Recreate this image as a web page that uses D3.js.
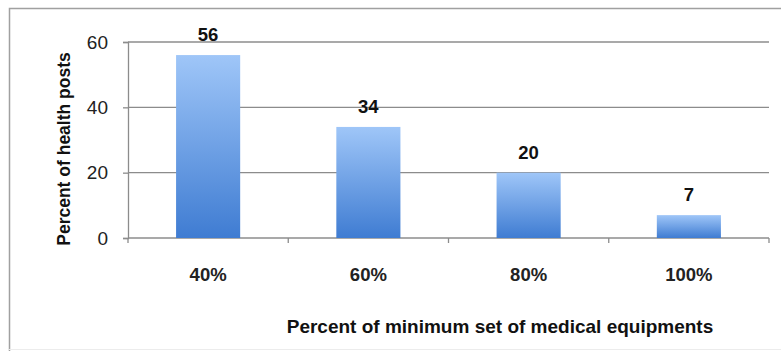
<!DOCTYPE html>
<html>
<head>
<meta charset="utf-8">
<script src="https://cdn.jsdelivr.net/npm/d3@7"></script>
<style>
  html, body { margin: 0; padding: 0; background: #fff; }
  svg { display: block; font-family: "Liberation Sans", Arial, sans-serif; }
</style>
</head>
<body>
<svg id="chart"></svg>
<script>
// chart values
const categories = ["40%", "60%", "80%", "100%"];
const percentPosts = [56, 34, 20, 7];
const yTicks = [0, 20, 40, 60];
const xTitle = "Percent of minimum set of medical equipments";
const yTitle = "Percent of health posts";

const W = 781, H = 351;
const margin = {left: 128, right: 12, top: 42, bottom: 113};
const width = W - margin.left - margin.right;
const height = H - margin.top - margin.bottom;

const svg = d3.select("#chart").attr("width", W).attr("height", H);

// outer frame (only top and left edges show in the picture)
svg.append("path")
    .attr("d", "M9.5," + H + "V8.5H" + W)
    .attr("fill", "none")
    .attr("stroke", "#a0a0a0")
    .attr("stroke-width", 1.5);
svg.append("line")
    .attr("x1", 9).attr("x2", W).attr("y1", 349.5).attr("y2", 349.5)
    .attr("stroke", "#ececec");

// bar gradient, light on top, darker at the base
const grad = svg.append("defs").append("linearGradient")
    .attr("id", "barGrad").attr("x1", 0).attr("x2", 0).attr("y1", 0).attr("y2", 1);
grad.append("stop").attr("offset", "0%").attr("stop-color", "#9fc6f8");
grad.append("stop").attr("offset", "100%").attr("stop-color", "#3f7cd2");

const g = svg.append("g")
    .attr("transform", "translate(" + margin.left + "," + margin.top + ")");

const xScale = d3.scaleBand().domain(categories).range([0, width]).paddingInner(0).paddingOuter(0);
const yScale = d3.scaleLinear().domain([0, 60]).range([height, 0]);

// gridlines
g.selectAll(".yGrid")
    .data(yTicks.slice(1))
    .join("line")
    .attr("x1", 0)
    .attr("x2", width)
    .attr("y1", d => yScale(d))
    .attr("y2", d => yScale(d))
    .attr("stroke", "#8c8c8c")
    .attr("stroke-width", 1.3);

// y axis
const yAxis = g.append("g")
    .call(d3.axisLeft(yScale).tickValues(yTicks).tickSize(5).tickPadding(15));
yAxis.select(".domain").attr("stroke", "#8c8c8c").attr("stroke-width", 1.3);
yAxis.selectAll(".tick line").attr("stroke", "#8c8c8c").attr("stroke-width", 1.3);
yAxis.selectAll(".tick text")
    .attr("font-size", 19)
    .attr("font-family", "Liberation Sans, Arial, sans-serif")
    .attr("fill", "#222");

// x axis: baseline with ticks at the category boundaries
const xAxis = g.append("g").attr("transform", "translate(0," + height + ")");
xAxis.append("line")
    .attr("x1", 0).attr("x2", width)
    .attr("stroke", "#8c8c8c").attr("stroke-width", 1.3);
const bounds = categories.map(c => xScale(c)).concat([width]);
xAxis.selectAll(".xTick")
    .data(bounds)
    .join("line")
    .attr("x1", d => d).attr("x2", d => d)
    .attr("y1", 0).attr("y2", 5)
    .attr("stroke", "#8c8c8c").attr("stroke-width", 1.3);
xAxis.selectAll(".xLabel")
    .data(categories)
    .join("text")
    .attr("x", d => xScale(d) + xScale.bandwidth() / 2)
    .attr("y", 43)
    .attr("text-anchor", "middle")
    .attr("font-size", 18.5)
    .attr("font-weight", "bold")
    .attr("fill", "#222")
    .text(d => d);

// bars
const barW = xScale.bandwidth() * 0.4;
g.selectAll(".bar")
    .data(percentPosts)
    .join("rect")
    .attr("x", (d, i) => xScale(categories[i]) + (xScale.bandwidth() - barW) / 2)
    .attr("y", d => yScale(d))
    .attr("width", barW)
    .attr("height", d => height - yScale(d))
    .attr("fill", "url(#barGrad)");

// value labels
g.selectAll(".val")
    .data(percentPosts)
    .join("text")
    .attr("x", (d, i) => xScale(categories[i]) + xScale.bandwidth() / 2)
    .attr("y", d => yScale(d) - 14)
    .attr("text-anchor", "middle")
    .attr("font-size", 18.5)
    .attr("font-weight", "bold")
    .attr("fill", "#111")
    .text(d => d);

// axis titles
svg.append("text")
    .attr("x", 500)
    .attr("y", 333)
    .attr("text-anchor", "middle")
    .attr("font-size", 19)
    .attr("font-weight", "bold")
    .attr("fill", "#111")
    .text(xTitle);

svg.append("text")
    .attr("transform", "translate(70,149) rotate(-90)")
    .attr("text-anchor", "middle")
    .attr("font-size", 17.5)
    .attr("font-weight", "bold")
    .attr("fill", "#111")
    .text(yTitle);
</script>
</body>
</html>
